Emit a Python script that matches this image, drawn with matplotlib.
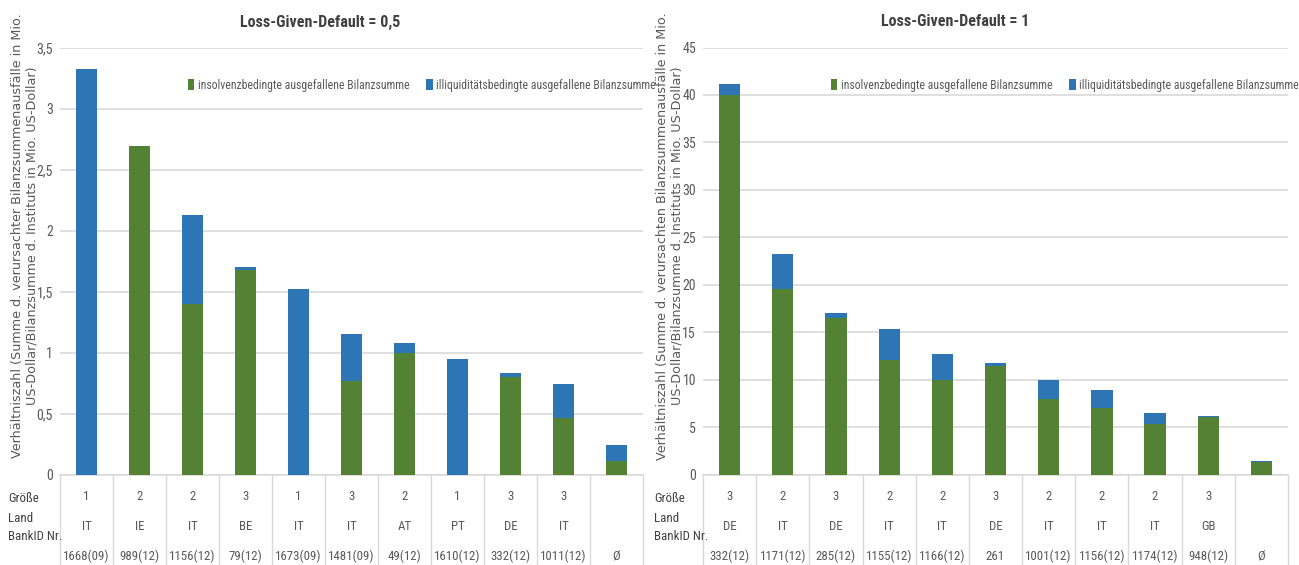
import matplotlib
matplotlib.use("Agg")
import matplotlib.pyplot as plt
from matplotlib import font_manager as fm
from matplotlib.transforms import blended_transform_factory
from matplotlib.lines import Line2D
from matplotlib.patches import Patch

W, H = 1299, 565

# ---- data -------------------------------------------------------------
series_names = ["insolvenzbedingte ausgefallene Bilanzsumme",
                "illiquiditätsbedingte ausgefallene Bilanzsumme"]
row_labels = ["Größe", "Land", "BankID Nr."]

# LGD = 0,5
size_a = ["1", "2", "2", "3", "1", "3", "2", "1", "3", "3", ""]
land_a = ["IT", "IE", "IT", "BE", "IT", "IT", "AT", "PT", "DE", "IT", ""]
bank_a = ["1668(09)", "989(12)", "1156(12)", "79(12)", "1673(09)", "1481(09)",
          "49(12)", "1610(12)", "332(12)", "1011(12)", "Ø"]
insolv_a = [0.0, 2.69, 1.40, 1.68, 0.0, 0.765, 0.995, 0.0, 0.80, 0.46, 0.112]
illiq_a = [3.32, 0.0, 0.73, 0.02, 1.52, 0.39, 0.08, 0.943, 0.035, 0.285, 0.126]
ticks_a = [0, 0.5, 1, 1.5, 2, 2.5, 3, 3.5]
ticklabels_a = ["0", "0,5", "1", "1,5", "2", "2,5", "3", "3,5"]

# LGD = 1
size_b = ["3", "2", "3", "2", "2", "3", "2", "2", "2", "3", ""]
land_b = ["DE", "IT", "DE", "IT", "IT", "DE", "IT", "IT", "IT", "GB", ""]
bank_b = ["332(12)", "1171(12)", "285(12)", "1155(12)", "1166(12)", "261",
          "1001(12)", "1156(12)", "1174(12)", "948(12)", "Ø"]
insolv_b = [40.0, 19.5, 16.5, 12.1, 10.0, 11.4, 8.0, 7.0, 5.3, 6.1, 1.27]
illiq_b = [1.2, 3.7, 0.5, 3.2, 2.65, 0.4, 2.0, 1.9, 1.2, 0.1, 0.18]
ticks_b = [0, 5, 10, 15, 20, 25, 30, 35, 40, 45]
ticklabels_b = [str(t) for t in ticks_b]

ylabel_a = ("Verhältniszahl (Summe d. verursachter Bilanzsummenausfälle in Mio.\n"
            "US-Dollar/Bilanzsumme d. Instituts in Mio. US-Dollar)")
ylabel_b = ("Verhältniszahl (Summe d. verursachten Bilanzsummenausfälle in Mio.\n"
            "US-Dollar/Bilanzsumme d. Instituts in Mio. US-Dollar)")

# ---- style ------------------------------------------------------------
GREEN = "#548235"
BLUE = "#2E75B6"
GRID = "#D9D9D9"
TXT = "#595959"

names = {f.name for f in fm.fontManager.ttflist}
narrow = None
for cand in ["Liberation Sans Narrow", "Roboto Condensed", "Open Sans Condensed"]:
    if cand in names:
        narrow = cand
        break
if narrow is None:
    narrow = "Liberation Sans"
    nscale = 0.9
else:
    nscale = 1.0
plt.rcParams["font.family"] = [narrow, "DejaVu Sans"]


def fx(x):
    return x / W


def fy(y):
    return 1 - y / H


fig = plt.figure(figsize=(W / 100, H / 100), dpi=100)


def panel(x0, x1, title, title_x, ylabel, ylabel_x, row_x,
          insolv, illiq, ticks, ticklabels, ymax, sizes, lands, banks,
          legend_x):
    top, bottom = 47.5, 474.5
    ax = fig.add_axes([fx(x0), fy(bottom), fx(x1) - fx(x0), fy(top) - fy(bottom)])
    n = len(insolv)
    xs = list(range(n))
    ax.bar(xs, insolv, width=0.4, color=GREEN, zorder=3)
    ax.bar(xs, illiq, width=0.4, bottom=insolv, color=BLUE, zorder=3)
    ax.set_xlim(-0.5, n - 0.5)
    ax.set_ylim(0, ymax)
    ax.set_yticks(ticks)
    ax.set_yticklabels(ticklabels)
    ax.set_xticks([])
    ax.tick_params(axis="y", length=0, pad=5, labelsize=10 * nscale,
                   labelcolor=TXT)
    for s in ["top", "right", "left"]:
        ax.spines[s].set_visible(False)
    ax.spines["bottom"].set_color(GRID)
    ax.spines["bottom"].set_linewidth(1.2)
    ax.grid(axis="y", color=GRID, linewidth=1.2, zorder=0)
    ax.set_axisbelow(True)

    fig.text(fx(title_x), fy(22), title, ha="center", va="center",
             fontsize=11.5 * nscale, fontweight="bold", color="#404040")

    fig.text(fx(ylabel_x), fy(236), ylabel, rotation=90, ha="center",
             va="center", multialignment="center", fontsize=9.2,
             color=TXT, family="DejaVu Sans", linespacing=1.2)

    handles = [Patch(facecolor=GREEN, edgecolor="none"),
               Patch(facecolor=BLUE, edgecolor="none")]
    ax.legend(handles, series_names, loc="center left",
              bbox_to_anchor=(fx(legend_x), fy(85)),
              bbox_transform=fig.transFigure, ncol=2, frameon=False,
              handlelength=0.55, handleheight=1.0, handletextpad=0.3,
              columnspacing=1.4, borderpad=0, borderaxespad=0,
              prop={"size": 8.5 * nscale}, labelcolor=TXT)

    # category table under the plot
    tr = blended_transform_factory(ax.transData, fig.transFigure)
    for b in range(n + 1):
        ax.add_line(Line2D([b - 0.5, b - 0.5], [fy(475), fy(565)],
                           transform=tr, color=GRID, lw=1.0, clip_on=False))
    for i in range(n):
        for val, yy in zip((sizes[i], lands[i], banks[i]), (496, 526, 556)):
            ax.text(i, fy(yy), val, transform=tr, ha="center", va="center",
                    fontsize=9.3 * nscale, color=TXT, clip_on=False)
    for lab, yy in zip(row_labels, (499, 518, 537)):
        fig.text(fx(row_x), fy(yy), lab, ha="left", va="center",
                 fontsize=9.3 * nscale, color="#404040")
    return ax


panel(60, 643, "Loss-Given-Default = 0,5", 320, ylabel_a, 25, 8,
      insolv_a, illiq_a, ticks_a, ticklabels_a, 3.5, size_a, land_a, bank_a,
      188)
panel(703, 1288, "Loss-Given-Default = 1", 955, ylabel_b, 670, 654,
      insolv_b, illiq_b, ticks_b, ticklabels_b, 45, size_b, land_b, bank_b,
      831)

fig.savefig("out.png", dpi=100)
